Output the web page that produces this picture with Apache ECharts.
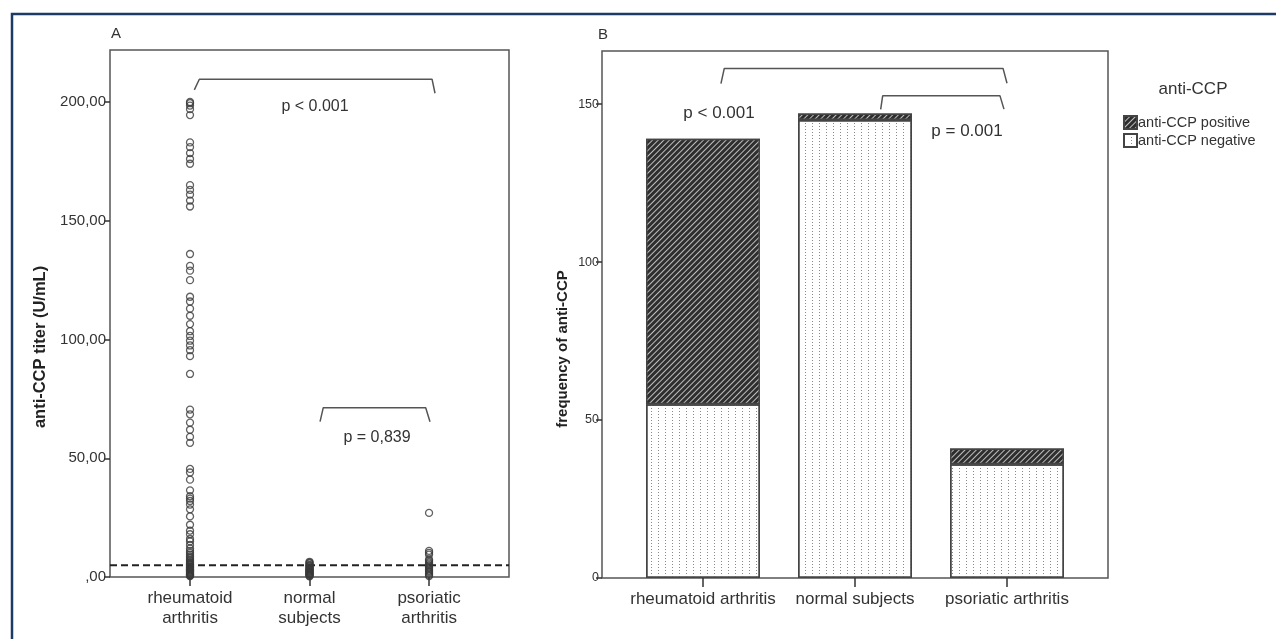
<!DOCTYPE html>
<html>
<head>
<meta charset="utf-8">
<script src="https://cdn.jsdelivr.net/npm/echarts@6/dist/echarts.min.js"></script>
<style>
  html, body { margin: 0; padding: 0; background: #fff; }
  #chart { width: 1276px; height: 639px; }
</style>
</head>
<body>
<div id="chart"></div>
<script>
// categories
const groupsA = ["rheumatoid\narthritis", "normal\nsubjects", "psoriatic\narthritis"];
const groupsB = ["rheumatoid arthritis", "normal subjects", "psoriatic arthritis"];

// panel A: anti-CCP titer (U/mL) per subject
const raTiter = [
  200, 199.5, 198.5, 197, 194.5,
  183, 181, 178.5, 176, 174,
  165, 163, 161, 158.5, 156,
  136, 131, 129, 125,
  118, 116, 113, 110, 106.5,
  103.5, 101.5, 99.5, 97.5, 95.5, 93,
  85.5,
  70.5, 68.5, 65, 62, 59, 56.5,
  45.5, 44, 41, 36.5, 34, 33, 32, 30.5, 28.5, 25.5, 22, 19.5,
  18, 16, 15, 13.5, 12, 11, 10.2, 9.4, 8.6, 8, 7.3, 6.8,
  6.3, 5.9, 5.2, 4.8, 4.4, 3.9, 3.5, 3.1, 2.7, 2.4, 2, 1.6, 1.3, 1, 0.7, 0.4,
  4.1, 3.3, 2.2, 1.1, 0.6, 5.5, 2.9
];
const normalTiter = [
  6.4, 6, 5.7, 5.1, 4.6, 4.3, 3.8, 3.4, 3, 2.7, 2.3, 2, 1.7, 1.2, 0.9, 0.5, 0.3,
  4.9, 3.6, 2.5, 1.5, 1
];
const psaTiter = [
  27, 11, 10.2, 9.4, 7.4, 6.8, 6.2, 5.6, 5, 4.4, 3.9, 3.2, 2.6, 2.1, 1.5, 0.9, 0.4
];
const cutoff = 5;
const ticksA = [0, 50, 100, 150, 200];

// panel B: counts by anti-CCP status
const ccpPositive = [84, 2, 5];
const ccpNegative = [55, 145, 36];
const ticksB = [0, 50, 100, 150];

// significance brackets (data coords of each panel box)
const bracketA1 = [[1.036, 205.1], [1.078, 209.6], [3.025, 209.6], [3.05, 203.7]];
const bracketA2 = [[2.088, 65.4], [2.115, 71.3], [2.972, 71.3], [3.008, 65.4]];
const bracketB1 = [[1.118, 156.5], [1.14, 161.3], [2.974, 161.3], [3.0, 156.6]];
const bracketB2 = [[2.169, 148.3], [2.182, 152.6], [2.954, 152.6], [2.98, 148.4]];

const font = "Liberation Sans, Arial, sans-serif";
const ink = "#333";
const lineCol = "#555";
const maxA = 221.9;
const maxB = 166.8;

const chart = echarts.init(document.getElementById("chart"));

const posDecal = {
  symbol: "rect",
  symbolSize: 1,
  color: "rgba(205,205,205,0.9)",
  dashArrayX: [1, 0],
  dashArrayY: [1, 2.2],
  rotation: -Math.PI / 4,
};
const negDecal = {
  symbol: "rect",
  symbolSize: 1,
  color: "#8a8a8a",
  dashArrayX: [1, 6],
  dashArrayY: [1, 2],
  rotation: 0,
};

function bracket(data, xi, yi) {
  return {
    type: "line",
    xAxisIndex: xi,
    yAxisIndex: yi,
    data: data,
    symbol: "none",
    silent: true,
    lineStyle: { color: lineCol, width: 1.5 },
    z: 3,
  };
}

function dots(values, idx) {
  return {
    type: "scatter",
    xAxisIndex: 0,
    yAxisIndex: 0,
    symbol: "circle",
    symbolSize: 7,
    data: values.map((v) => [idx, v]),
    itemStyle: { color: "transparent", borderColor: "#3a3a3a", borderWidth: 1.3 },
    z: 4,
  };
}

const tickStyle = { color: ink, width: 1.5 };

chart.setOption({
  animation: false,
  backgroundColor: "#fff",
  textStyle: { fontFamily: font, color: ink },
  grid: [
    { left: 110, top: 50, width: 399, height: 527, show: true, borderColor: lineCol, borderWidth: 1.5 },
    { left: 602, top: 51, width: 506, height: 527, show: true, borderColor: lineCol, borderWidth: 1.5 },
    // inner band for the bars: three 152px categories centred in box B
    { left: 627, top: 51, width: 456, height: 527 },
  ],
  xAxis: [
    {
      type: "value",
      gridIndex: 0,
      min: 0.3305,
      max: 3.669,
      axisLine: { show: false },
      splitLine: { show: false },
      axisTick: { show: true, customValues: [1, 2, 3], length: 9, lineStyle: tickStyle },
      axisLabel: {
        customValues: [1, 2, 3],
        formatter: (v) => groupsA[Math.round(v) - 1],
        fontSize: 17,
        lineHeight: 20,
        color: ink,
        margin: 11,
      },
    },
    {
      type: "value",
      gridIndex: 1,
      min: 0.3355,
      max: 3.6645,
      show: false,
    },
    {
      type: "category",
      gridIndex: 2,
      data: groupsB,
      axisLine: { show: false },
      axisTick: { show: true, alignWithLabel: true, interval: 0, length: 9, lineStyle: tickStyle },
      axisLabel: { interval: 0, hideOverlap: false, fontSize: 17, color: ink, margin: 13 },
    },
  ],
  yAxis: [
    {
      type: "value",
      gridIndex: 0,
      min: 0,
      max: maxA,
      axisLine: { show: false },
      splitLine: { show: false },
      axisTick: { show: true, customValues: ticksA, length: 6, lineStyle: tickStyle },
      axisLabel: {
        customValues: ticksA,
        formatter: (v) => (v === 0 ? ",00" : v.toFixed(2).replace(".", ",")),
        fontSize: 15,
        color: ink,
        margin: 4,
      },
    },
    {
      type: "value",
      gridIndex: 1,
      min: 0,
      max: maxB,
      axisLine: { show: false },
      splitLine: { show: false },
      axisTick: { show: true, customValues: ticksB, length: 6, lineStyle: tickStyle },
      axisLabel: { customValues: ticksB, fontSize: 12.5, color: ink, margin: 3 },
    },
    {
      type: "value",
      gridIndex: 2,
      min: 0,
      max: maxB,
      show: false,
    },
  ],
  legend: {
    orient: "vertical",
    left: 1123,
    top: 115,
    padding: 0,
    itemGap: 3,
    itemWidth: 13,
    itemHeight: 13,
    icon: "rect",
    textStyle: { fontSize: 14.5, color: ink, padding: [0, 0, 0, -4] },
    data: ["anti-CCP positive", "anti-CCP negative"],
  },
  series: [
    dots(raTiter, 1),
    dots(normalTiter, 2),
    dots(psaTiter, 3),
    {
      type: "line",
      xAxisIndex: 0,
      yAxisIndex: 0,
      data: [[0.3305, cutoff], [3.669, cutoff]],
      symbol: "none",
      silent: true,
      lineStyle: { color: "#222", width: 2, type: [7, 4] },
      z: 2,
    },
    bracket(bracketA1, 0, 0),
    bracket(bracketA2, 0, 0),
    {
      name: "anti-CCP negative",
      type: "bar",
      xAxisIndex: 2,
      yAxisIndex: 2,
      stack: "ccp",
      barWidth: 114,
      data: ccpNegative,
      itemStyle: { color: "#fff", borderColor: "#444", borderWidth: 1.5, decal: negDecal },
    },
    {
      name: "anti-CCP positive",
      type: "bar",
      xAxisIndex: 2,
      yAxisIndex: 2,
      stack: "ccp",
      barWidth: 114,
      data: ccpPositive,
      itemStyle: { color: "#2e2e2e", borderColor: "#444", borderWidth: 1.5, decal: posDecal },
    },
    bracket(bracketB1, 1, 1),
    bracket(bracketB2, 1, 1),
  ],
  graphic: [
    // outer frame
    { type: "polyline", shape: { points: [[12, 645], [12, 14], [1285, 14]] }, style: { stroke: "#1c3a63", lineWidth: 2.5, fill: null }, silent: true },
    { type: "text", x: 111, y: 34, style: { text: "A", font: "15px " + font, fill: ink, verticalAlign: "middle" } },
    { type: "text", x: 598, y: 35, style: { text: "B", font: "15px " + font, fill: ink, verticalAlign: "middle" } },
    { type: "text", x: 40, y: 347, rotation: Math.PI / 2, style: { text: "anti-CCP titer (U/mL)", font: "bold 16.5px " + font, fill: "#222", align: "center", verticalAlign: "middle" } },
    { type: "text", x: 563, y: 349, rotation: Math.PI / 2, style: { text: "frequency of anti-CCP", font: "bold 15px " + font, fill: "#222", align: "center", verticalAlign: "middle" } },
    { type: "text", x: 315, y: 107, style: { text: "p < 0.001", font: "16px " + font, fill: ink, align: "center", verticalAlign: "middle" } },
    { type: "text", x: 377, y: 438, style: { text: "p = 0,839", font: "16px " + font, fill: ink, align: "center", verticalAlign: "middle" } },
    { type: "text", x: 719, y: 113, style: { text: "p < 0.001", font: "17px " + font, fill: ink, align: "center", verticalAlign: "middle" } },
    { type: "text", x: 967, y: 131, style: { text: "p = 0.001", font: "17px " + font, fill: ink, align: "center", verticalAlign: "middle" } },
    { type: "text", x: 1193, y: 89, style: { text: "anti-CCP", font: "17px " + font, fill: ink, align: "center", verticalAlign: "middle" } },
  ],
});
</script>
</body>
</html>
